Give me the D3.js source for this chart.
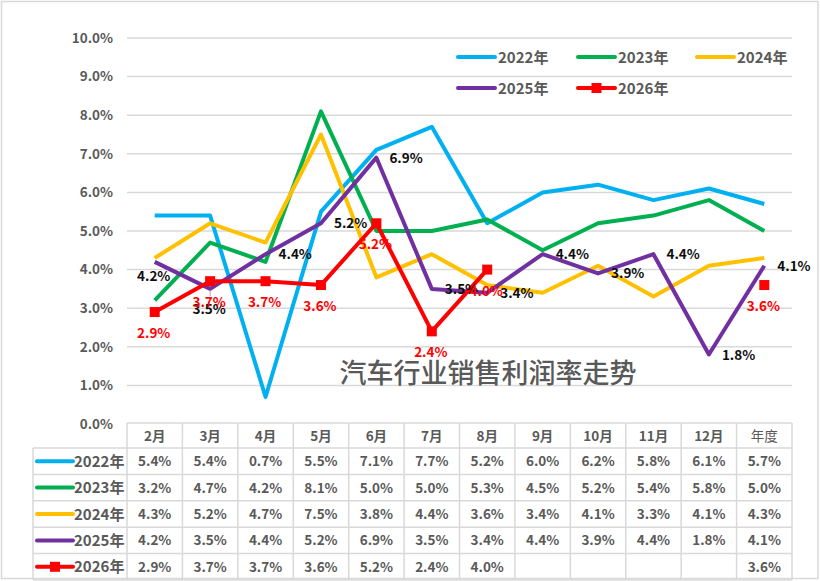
<!DOCTYPE html>
<html><head><meta charset="utf-8">
<script src="https://cdn.jsdelivr.net/npm/d3@7/dist/d3.min.js"></script>
<style>
html,body{margin:0;padding:0;background:#fff;}
svg{display:block;font-family:"Noto Sans CJK SC","Noto Sans",sans-serif;}
</style></head><body>
<svg id="c" width="820" height="581"></svg>
<script>
const categories = ['2月','3月','4月','5月','6月','7月','8月','9月','10月','11月','12月','年度'];
const seriesNames = ['2022年','2023年','2024年','2025年','2026年'];
const s2022 = [5.4,5.4,0.7,5.5,7.1,7.7,5.2,6.0,6.2,5.8,6.1,5.7];
const s2023 = [3.2,4.7,4.2,8.1,5.0,5.0,5.3,4.5,5.2,5.4,5.8,5.0];
const s2024 = [4.3,5.2,4.7,7.5,3.8,4.4,3.6,3.4,4.1,3.3,4.1,4.3];
const s2025 = [4.2,3.5,4.4,5.2,6.9,3.5,3.4,4.4,3.9,4.4,1.8,4.1];
const s2026 = [2.9,3.7,3.7,3.6,5.2,2.4,4.0,null,null,null,null,3.6];
const yTicks = [0,1,2,3,4,5,6,7,8,9,10];
const title = '汽车行业销售利润率走势';

(function(){
const seriesValues = [s2022,s2023,s2024,s2025,s2026];
const colors = ['#00B0F0','#00B050','#FFC000','#7030A0','#FF0000'];
const txt = '#595959';

const svg = d3.select('#c');
svg.append('rect').attr('x',1.5).attr('y',1.5).attr('width',816.5).attr('height',577)
  .attr('fill','#fff').attr('stroke','#D9D9D9').attr('stroke-width',1.5);

const pL = 127, pR = 792, pT = 38, pB = 424;
const x = d3.scaleBand().domain(categories).range([pL,pR]);
const y = d3.scaleLinear().domain([0,10]).range([pB,pT]);
const cx = c => x(c) + x.bandwidth()/2;

svg.append('g').selectAll('line').data(yTicks.filter(t=>t>0)).join('line')
  .attr('x1',pL).attr('x2',pR).attr('y1',d=>y(d)).attr('y2',d=>y(d))
  .attr('stroke','#D9D9D9').attr('stroke-width',1.5);

const yAxis = d3.axisLeft(y).tickValues(yTicks).tickFormat(d=>d3.format('.1f')(d)+'%').tickSize(0).tickPadding(14);
const ga = svg.append('g').attr('transform',`translate(${pL},0)`).call(yAxis);
ga.select('.domain').remove();
ga.selectAll('text').attr('fill',txt).style('font-size','13.5px').style('font-weight','bold')
  .style('font-family','"Noto Sans CJK SC",sans-serif');

const legPos = [[458,57],[578,57],[697,57],[458,88],[578,88]];
const lg = svg.append('g');
seriesNames.forEach((n,i)=>{
  const [lx,ly] = legPos[i];
  lg.append('line').attr('x1',lx).attr('x2',lx+37).attr('y1',ly).attr('y2',ly)
    .attr('stroke',colors[i]).attr('stroke-width',4).attr('stroke-linecap','round');
  if(i===4) lg.append('rect').attr('x',lx+13.5).attr('y',ly-5).attr('width',10).attr('height',10).attr('fill',colors[i]);
  lg.append('text').attr('x',lx+40).attr('y',ly+5.5).text(n).attr('fill',txt)
    .style('font-size','15px').style('font-weight','bold');
});

svg.append('text').attr('x',488).attr('y',383).attr('text-anchor','middle').text(title)
  .attr('fill',txt).style('font-size','27px').style('font-weight','500');

const line = d3.line().defined(d=>d.v!=null).x(d=>cx(d.c)).y(d=>y(d.v));
seriesValues.forEach((vals,i)=>{
  const pts = categories.map((c,j)=>({c, v: vals[j]}));
  const lpts = i===4 ? pts.map((p,j)=> j===11 ? {c:p.c,v:null} : p) : pts;
  svg.append('path').datum(lpts).attr('d',line).attr('fill','none')
    .attr('stroke',colors[i]).attr('stroke-width',4).attr('stroke-linejoin','round');
  if(i===4){
    svg.append('g').selectAll('rect').data(pts.filter(p=>p.v!=null)).join('rect')
      .attr('x',d=>cx(d.c)-5).attr('y',d=>y(d.v)-5).attr('width',10).attr('height',10)
      .attr('fill',colors[i]);
  }
});

const fmt = v => d3.format('.1f')(v)+'%';
const lab25 = svg.append('g');
const pos25 = ['below14','below20','right','right','right','right','right','right','right','right','right','right'];
categories.forEach((c,j)=>{
  const v = s2025[j], px = cx(c), py = y(v), p = pos25[j];
  const t = lab25.append('text').text(fmt(v)).attr('fill','#0D0D0D')
    .style('font-size','13.5px').style('font-weight','bold');
  if(p==='right') t.attr('x',px+13).attr('y',py+5);
  else {
    const off = p==='below14'?14:20;
    t.attr('x',px-1).attr('y',py+off+5).attr('text-anchor','middle');
  }
  if(j===1) lab25.append('line').attr('x1',px).attr('x2',px).attr('y1',py+1).attr('y2',py+7).attr('stroke','#A6A6A6').attr('stroke-width',1);
});
const lab26 = svg.append('g');
categories.forEach((c,j)=>{
  const v = s2026[j]; if(v==null) return;
  lab26.append('text').text(fmt(v)).attr('x',cx(c)-1).attr('y',y(v)+26).attr('text-anchor','middle')
    .attr('fill','#FF0000').style('font-size','13.5px').style('font-weight','bold');
});

const tTop = 423, hH = 25, rowTop = 448, rH = 26.4, labL = 33;
const tb = svg.append('g');
const gridC = '#D9D9D9';
tb.append('line').attr('x1',pL).attr('x2',pR).attr('y1',tTop).attr('y2',tTop).attr('stroke',gridC).attr('stroke-width',1.5);
const nR = seriesNames.length;
for(let r=0;r<=nR;r++){
  const yy = rowTop + r*rH;
  tb.append('line').attr('x1',labL).attr('x2',pR).attr('y1',yy).attr('y2',yy).attr('stroke',gridC).attr('stroke-width',1.5);
}
x.domain().forEach(c=>{
  tb.append('line').attr('x1',x(c)).attr('x2',x(c)).attr('y1',tTop).attr('y2',rowTop+nR*rH).attr('stroke',gridC).attr('stroke-width',1.5);
});
tb.append('line').attr('x1',pR).attr('x2',pR).attr('y1',tTop).attr('y2',rowTop+nR*rH).attr('stroke',gridC).attr('stroke-width',1.5);
tb.append('line').attr('x1',labL).attr('x2',labL).attr('y1',rowTop).attr('y2',rowTop+nR*rH).attr('stroke',gridC).attr('stroke-width',1.5);
categories.forEach((c,j)=>{
  tb.append('text').attr('x',cx(c)).attr('y',tTop+hH/2+5).attr('text-anchor','middle').text(c)
    .attr('fill',txt).style('font-size','13.5px').style('font-weight', j===11?'normal':'bold');
});
seriesValues.forEach((vals,i)=>{
  const yc = rowTop + i*rH + rH/2;
  tb.append('line').attr('x1',37).attr('x2',73).attr('y1',yc).attr('y2',yc)
    .attr('stroke',colors[i]).attr('stroke-width',4).attr('stroke-linecap','round');
  if(i===4) tb.append('rect').attr('x',50).attr('y',yc-5).attr('width',10).attr('height',10).attr('fill',colors[i]);
  tb.append('text').attr('x',74).attr('y',yc+5.5).text(seriesNames[i]).attr('fill',txt)
    .style('font-size','15px').style('font-weight','bold');
  categories.forEach((c,j)=>{
    const v = vals[j]; if(v==null) return;
    tb.append('text').attr('x',cx(c)).attr('y',yc+5).attr('text-anchor','middle').text(fmt(v))
      .attr('fill',txt).style('font-size','13.5px').style('font-weight','bold');
  });
});
})();
</script>
</body></html>
